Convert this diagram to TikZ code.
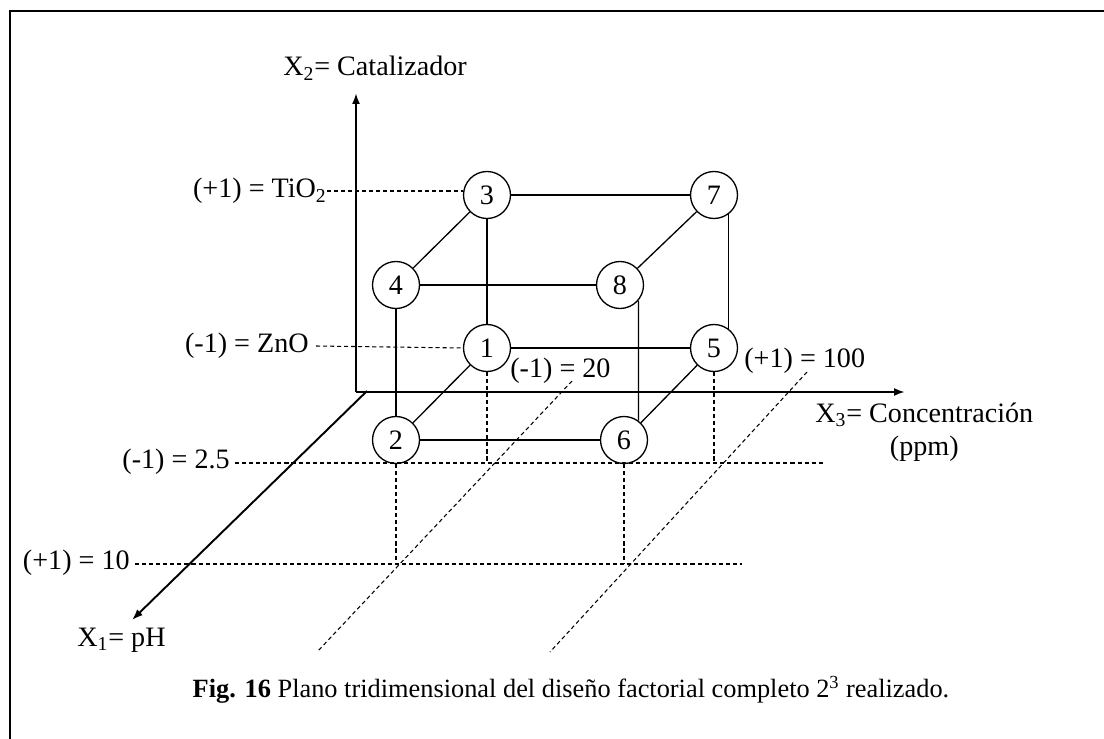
\documentclass[tikz,border=0pt]{standalone}
\usepackage{fontspec}
\setmainfont{Liberation Serif}
\usetikzlibrary{arrows.meta, calc}
\tikzset{
    expt/.style={draw, circle, fill=white, line width=0.75pt, minimum size=0.94cm, inner sep=0pt, font=\fontsize{16}{19}\selectfont},
    edge/.style={line width=0.75pt},
    proj/.style={dash pattern=on 2.3pt off 1.7pt, line width=0.6pt},
    axisline/.style={line width=1.1pt, -{Latex[length=2.2mm, width=1.6mm]}},
    lbl/.style={font=\fontsize{16}{19}\selectfont, inner sep=0pt},
}

\begin{document}
\begin{tikzpicture}[x=0.02cm, y=-0.02cm]
\useasboundingbox (0,0) rectangle (1104,739);
% frame
\draw[line width=0.9pt] (10,739) -- (10,11) -- (1104,11);
% axes
\coordinate (O) at (356,392);
\coordinate (x2tip) at (356,93);
\coordinate (x3tip) at (905,392);
\coordinate (x1start) at (367,391);
\coordinate (x1tip) at (132,620);
\draw[axisline] (O) -- (x2tip);
\draw[axisline] (O) -- (x3tip);
\draw[axisline] (x1start) -- (x1tip);
\node[lbl, anchor=west] (x2lab) at (283,68) {X\textsubscript{2}= Catalizador};
\node[lbl, anchor=west, align=center] (x3lab) at (815,432) {X\textsubscript{3}= Concentración\\(ppm)};
\node[lbl, anchor=west] (x1lab) at (77,640) {X\textsubscript{1}= pH};
% runs of the design
\node[expt] (r3) at (487,195) {3};
\node[expt] (r7) at (714,195) {7};
\node[expt] (r4) at (396,285) {4};
\node[expt] (r8) at (620,285) {8};
\node[expt] (r1) at (487,348) {1};
\node[expt] (r5) at (714,348) {5};
\node[expt] (r2) at (396,440) {2};
\node[expt] (r6) at (624,440) {6};
% cube
\draw[edge] (r3) -- (r7);
\draw[edge] (r3) -- (r4);
\draw[edge] (r4) -- (r8);
\draw[edge] (r8) -- (r7);
\draw[edge] (r1) -- (r5);
\draw[edge] (r1) -- (r2);
\draw[edge] (r2) -- (r6);
\draw[edge] (r6) -- (r5);
\draw[edge] (r3) -- (r1);
\draw[edge] (r4) -- (r2);
\draw[edge] (r7.-53) -- (r5.53);
\draw[edge] (r8.-40) -- (r6.53);
% levels
\node[lbl, anchor=east] (tio) at (327,191) {(+1) = TiO\textsubscript{2}};
\node[lbl, anchor=east] (zno) at (309,346) {(-1) = ZnO};
\node[lbl, anchor=east] (ph25) at (230,462) {(-1) = 2.5};
\node[lbl, anchor=east] (ph10) at (130,563) {(+1) = 10};
\node[lbl, anchor=west] (c20) at (510,371) {(-1) = 20};
\node[lbl, anchor=west] (c100) at (744,361) {(+1) = 100};
\coordinate (end25) at (823,463);
\coordinate (end10) at (742,564);
\coordinate (d20a) at (572,381);
\coordinate (d20b) at (317,652);
\coordinate (d100a) at (807,372);
\coordinate (d100b) at (550,652);
\draw[proj] (tio.east) -- (tio.east -| r3.west);
\draw[proj] ([xshift=4pt]zno.east) -- (r1.west);
\draw[proj] ([xshift=3pt]ph25.east |- end25) -- (end25);
\draw[proj] ([xshift=3pt]ph10.east |- end10) -- (end10);
\draw[proj] (r1.south) -- (r1.south |- end25);
\draw[proj] (r5.south) -- (r5.south |- end25);
\draw[proj] (r2.south) -- (r2.south |- end10);
\draw[proj] (r6.south) -- (r6.south |- end10);
\draw[proj] (d20a) -- (d20b);
\draw[proj] (d100a) -- (d100b);
% caption
\node[font=\fontsize{15}{18}\selectfont, inner sep=0pt] (cap) at (571,690) {\textbf{Fig. 16} Plano tridimensional del diseño factorial completo 2\textsuperscript{3} realizado.};
\end{tikzpicture}
\end{document}
